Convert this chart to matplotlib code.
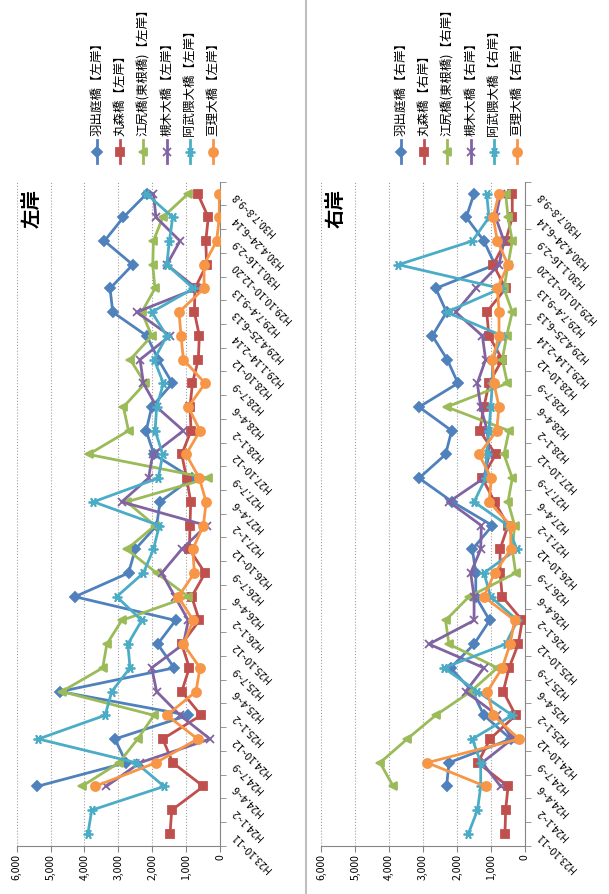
import matplotlib
matplotlib.use("Agg")
import matplotlib.pyplot as plt
from matplotlib.lines import Line2D
import numpy as np

plt.rcParams['font.family'] = ['Noto Sans CJK JP', 'DejaVu Sans']

nan = np.nan

periods = ['H23.10~11', 'H24.1~2', 'H24.4~6', 'H24.7~9', 'H24.10~12', 'H25.1~2',
           'H25.4~6', 'H25.7~9', 'H25.10~12', 'H26.1~2', 'H26.4~6', 'H26.7~9',
           'H26.10~12', 'H27.1~2', 'H27.4~6', 'H27.7~9', 'H27.10~12', 'H28.1~2',
           'H28.4~6', 'H28.7~9', 'H28.10~12', 'H29.1.14~2.14', 'H29.4.25~6.13',
           'H29.7.4~9.13', 'H29.10.10~12.20', 'H30.1.16~2.9', 'H30.4.24~6.14',
           'H30.7.8~9.8']

bridges = ['羽出庭橋', '丸森橋', '江尻橋(東根橋)', '槻木大橋', '阿武隈大橋', '亘理大橋']

# 左岸
left_hadeniwa = [nan, nan, 5400, 2770, 3100, 935, 4720, 1350, 1840, 1310, 4280, 2700, 2500, 1870,
                 1770, 830, 1950, 2180, 2015, 1405, 1820, 2160, 3165, 3245, 2575, 3410, 2850, 2160]
left_marumori = [1475, 1425, 490, 1395, 1690, 560, 1130, 905, 1130, 610, 835, 440, 905, 885,
                 865, 985, 1130, 855, 885, 815, 640, 610, 755, 740, 395, 420, 345, 660]
left_ejiri = [nan, nan, 4080, 2980, 2430, 1950, 4670, 3460, 3340, 2900, 935, 1870, 2750, 1920,
              2750, 345, 3880, 2700, 2850, 2210, 2650, 2015, 2310, 1920, 1985, 1965, 1690, 935]
left_tsukinoki = [nan, nan, 3360, 2360, 295, 1180, 1870, 2015, 1080, 935, 1330, 1720, 1130, 395,
                  2900, 2110, 1985, 1080, 1870, 2260, 2360, 1475, 2460, 690, 1570, 1180, 1890, 1965]
left_abukuma = [3900, 3785, 1650, 2480, 5360, 3390, 3195, 2655, 2720, 2310, 3050, 2260, 1965, 1790,
                3735, 1820, 1690, 1915, 1870, 1670, 1945, 1570, 2015, 785, 1570, 1495, 1395, 2180]
left_watari = [nan, nan, 3690, 1890, 660, 1570, 710, 590, 1080, 790, 1230, 755, 805, 490,
               410, 610, 1000, 590, 935, 440, 1080, 1150, 1210, 470, 470, 100, 20, 20]

# 右岸
right_hadeniwa = [nan, nan, 2310, 2240, 420, 1210, 1550, 2190, 1500, 1040, 1450, 1450, 1550, 960,
                  2140, 3120, 2340, 2160, 3120, 1975, 2290, 2730, 2310, 2630, 885, 1210, 1730, 1500]
right_marumori = [590, 570, 500, 1385, 1030, 275, 640, 470, 200, 80, 670, 735, 735, 500,
                  895, 1260, 865, 1335, 1210, 1060, 670, 1060, 1130, 570, 935, 570, 375, 375]
right_ejiri = [nan, nan, 3880, 4270, 3470, 2630, 1600, 815, 2240, 2340, 1650, 275, 375, 305,
               500, 375, 620, 470, 2310, 520, 670, 540, 375, 620, 500, 375, 500, 570]
right_tsukinoki = [nan, nan, 715, 1260, 375, 815, 1750, 1210, 2830, 1500, 1500, 1600, 1305, 1285,
                   2240, 1210, 1060, 1110, 1305, 1405, 1160, 1255, 2040, 1450, 765, 620, 865, 715]
right_abukuma = [1670, 1400, 1305, 1305, 1550, 375, 1400, 2390, 570, 225, 1010, 1210, 245, 500,
                 1500, 1160, 1130, 1060, 1010, 960, 960, 670, 2310, 715, 3730, 1550, 1060, 1130]
right_watari = [nan, nan, 1160, 2880, 180, 935, 1110, 670, 440, 305, 1210, 895, 420, 420,
                1060, 990, 1355, 835, 765, 915, 960, 765, 765, 815, 500, 815, 935, 765]

colors = ['#4F81BD', '#C0504D', '#9BBB59', '#8064A2', '#4BACC6', '#F79646']
markers = ['D', 's', '<', 'x', (6, 2, 90), 'o']
msizes = [5, 6, 6, 6, 7, 6.5]

W, H = 609, 894
fig = plt.figure(figsize=(W / 100, H / 100), dpi=100)
grey = '#868686'


def px_axes(x0, x1, y0, y1):
    return fig.add_axes([x0 / W, 1 - y1 / H, (x1 - x0) / W, (y1 - y0) / H])


def draw_panel(ax, series, side, x_off):
    idx = np.arange(len(periods))
    for vals, c, m, ms in zip(series, colors, markers, msizes):
        ax.plot(vals, idx, color=c, marker=m, ms=ms, lw=2, mew=1.3, zorder=3)
    ax.set_xlim(6000, 0)
    ax.set_ylim(-0.5, len(periods) - 0.5)
    ax.set_xticks(range(0, 6001, 1000))
    ax.set_xticklabels([f'{v:,}' for v in range(0, 6001, 1000)], rotation=90, fontsize=7.5)
    ax.tick_params(axis='x', direction='out', length=4, color=grey, pad=2)
    ax.yaxis.tick_right()
    ax.set_yticks(idx)
    ax.set_yticklabels(periods, rotation=135, ha='right', va='center',
                       rotation_mode='anchor', fontsize=7.5)
    ax.tick_params(axis='y', which='major', length=0, pad=10)
    ax.set_yticks(np.arange(-0.5, len(periods), 1), minor=True)
    ax.tick_params(axis='y', which='minor', length=4, direction='out', color=grey,
                   right=True, left=False)
    for s in ['top', 'left']:
        ax.spines[s].set_visible(False)
    for s in ['right', 'bottom']:
        ax.spines[s].set_color(grey)
    ax.grid(axis='x', color='#a0a0a0', lw=0.8, ls=':')
    ax.set_axisbelow(True)

    fig.text((x_off + 32) / W, 1 - 208 / H, side, rotation=90, fontsize=14,
             fontweight='bold', ha='center', va='center')

    # legend, drawn rotated like the rest of the chart
    for k, (name, c, m, ms) in enumerate(zip(bridges, colors, markers, msizes)):
        lx = (x_off + 97 + 23.2 * k) / W
        fig.add_artist(Line2D([lx, lx, lx], [1 - 163 / H, 1 - 151.5 / H, 1 - 140 / H],
                              transform=fig.transFigure, color=c, lw=2, marker=m,
                              ms=ms, mew=1.3, markevery=[1]))
        fig.text(lx, 1 - 136 / H, f'{name}【{side}】', rotation=90, fontsize=9,
                 ha='center', va='bottom')


axL = px_axes(16.7, 220, 181.7, 845.7)
draw_panel(axL, [left_hadeniwa, left_marumori, left_ejiri, left_tsukinoki,
                 left_abukuma, left_watari], '左岸', 0)

axR = px_axes(321.3, 525, 181.7, 845.7)
draw_panel(axR, [right_hadeniwa, right_marumori, right_ejiri, right_tsukinoki,
                 right_abukuma, right_watari], '右岸', 304)

fig.add_artist(Line2D([306 / W, 306 / W], [0, 1], transform=fig.transFigure,
                      color='#bfbfbf', lw=1.5))

fig.savefig('out.png', dpi=100)
plt.close(fig)
